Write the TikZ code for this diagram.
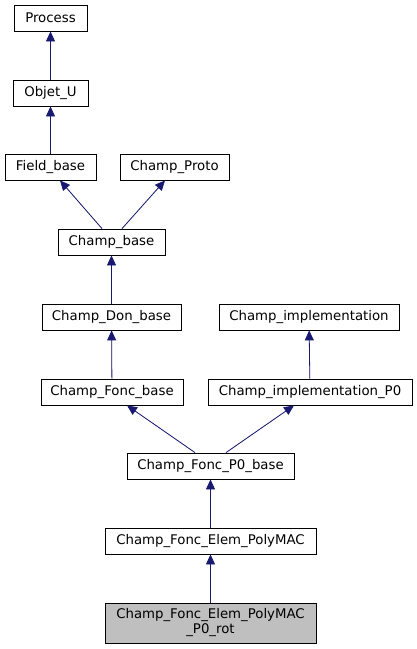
\documentclass[tikz,border=0pt]{standalone}
\usepackage{fontspec}
\setmainfont{DejaVu Sans}
\usetikzlibrary{arrows.meta}
\definecolor{edgeblue}{HTML}{191970}
\definecolor{leafgray}{HTML}{BFBFBF}

\begin{document}
\begin{tikzpicture}[x=1pt,y=-1pt,>={Triangle[length=10pt,width=9pt]},
                    cls node/.style={rectangle,draw,line width=0.8pt,minimum height=26pt,
                                     inner sep=0pt,font=\fontsize{13.3}{15}\selectfont}]
  \useasboundingbox (0,0) rectangle (416,649);
  \node[cls node,minimum width=73pt]  (proc)      at (50.5,18)  {Process};
  \node[cls node,minimum width=75pt]  (objet)     at (50.5,93)  {Objet\_U};
  \node[cls node,minimum width=91pt]  (field)     at (50.5,167) {Field\_base};
  \node[cls node,minimum width=109pt] (proto)     at (174.5,167) {Champ\_Proto};
  \node[cls node,minimum width=107pt] (champbase) at (111.5,242) {Champ\_base};
  \node[cls node,minimum width=139pt] (don)       at (111.5,317) {Champ\_Don\_base};
  \node[cls node,minimum width=180pt] (impl)      at (309,317)  {Champ\_implementation};
  \node[cls node,minimum width=142pt] (foncbase)  at (112,392)  {Champ\_Fonc\_base};
  \node[cls node,minimum width=204pt] (implpz)    at (310,392)  {Champ\_implementation\_P0};
  \node[cls node,minimum width=167pt] (pzbase)    at (210.5,466) {Champ\_Fonc\_P0\_base};
  \node[cls node,minimum width=211pt] (elem)      at (210.5,541) {Champ\_Fonc\_Elem\_PolyMAC};
  \node[cls node,minimum width=211pt,minimum height=40pt,fill=leafgray,
        align=center] (rot) at (210.5,623) {Champ\_Fonc\_Elem\_PolyMAC\\\_P0\_rot};
  \path[every edge/.style={draw=edgeblue,fill=edgeblue,line width=0.8pt}]
    (proc) edge [<-] (objet)
    (objet) edge [<-] (field)
    ([xshift=9.5pt]field.south) edge [<-] ([xshift=-9.5pt]champbase.north)
    ([xshift=-9.5pt]proto.south) edge [<-] ([xshift=10.5pt]champbase.north)
    (champbase) edge [<-] (don)
    (don) edge [<-] (foncbase)
    (impl) edge [<-] (implpz)
    ([xshift=15pt]foncbase.south) edge [<-] ([xshift=-15.5pt]pzbase.north)
    ([xshift=-16pt]implpz.south) edge [<-] ([xshift=15.5pt]pzbase.north)
    (pzbase) edge [<-] (elem)
    (elem) edge [<-] (rot);
\end{tikzpicture}
\end{document}
